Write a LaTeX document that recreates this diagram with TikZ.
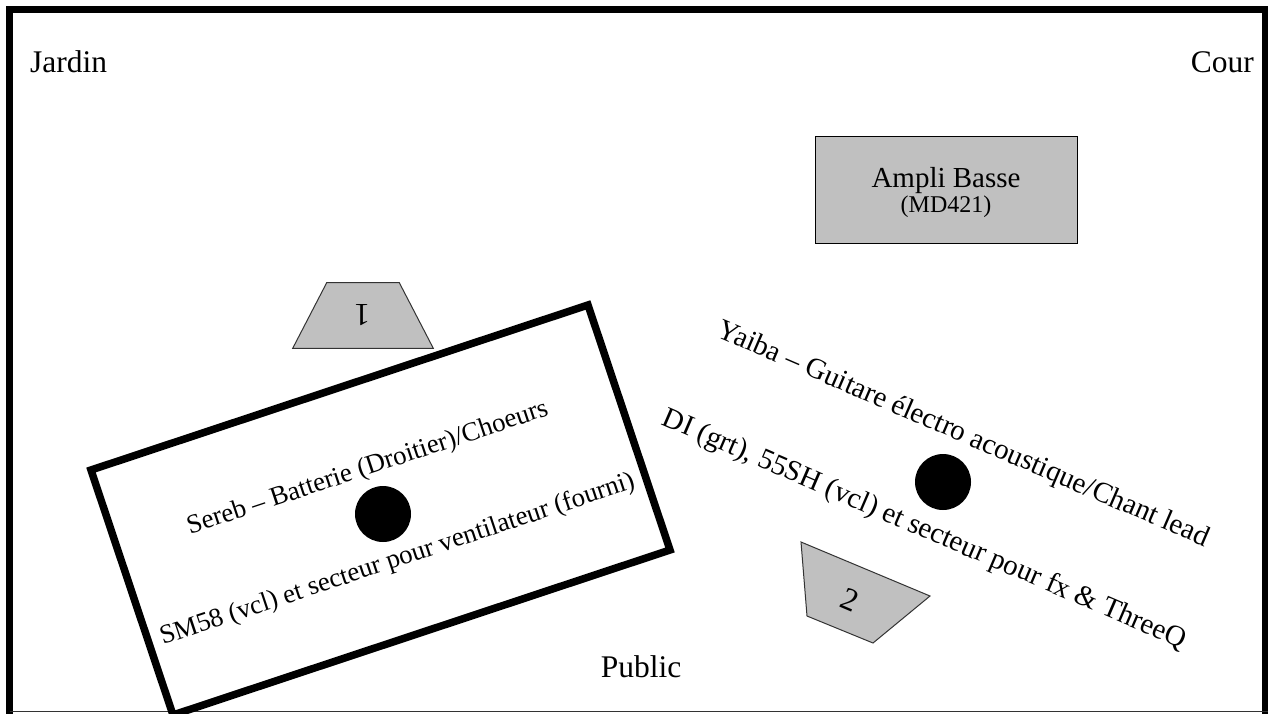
\documentclass[tikz,border=0pt]{standalone}
\usepackage{fontspec}
\setmainfont{Liberation Serif}
\definecolor{wedgegray}{HTML}{C0C0C0}
\definecolor{edgegray}{HTML}{333333}
\begin{document}
\begin{tikzpicture}[x=1pt,y=-1pt,
  lbl/.style={inner sep=0pt,font=\fontsize{29}{34}\selectfont},
  cornerlbl/.style={inner sep=0pt,font=\fontsize{31.5}{36}\selectfont},
  smalllbl/.style={inner sep=0pt,font=\fontsize{24}{28}\selectfont},
  wedgelbl/.style={inner sep=0pt,font=\fontsize{32}{36}\selectfont},
  drumtxt/.style={inner sep=0pt,font=\fontsize{26.8}{31}\selectfont,rotate=18.4},
  gtrtxt/.style={inner sep=0pt,font=\fontsize{29}{34}\selectfont,rotate=-23.3},
  wedge/.style={fill=wedgegray,draw=edgegray,line width=1pt,line join=miter},
  frame/.style={line width=7pt,line join=miter},
  riser/.style={line width=7.5pt,line join=miter},
  spot/.style={fill=black}]
\useasboundingbox (0,0) rectangle (1268,713);
\clip (0,0) rectangle (1268,713);
\fill[white] (0,0) rectangle (1268,713);
% stage frame
\draw[frame] (9.5,720) -- (9.5,9.5) -- (1265,9.5) -- (1265,720);
\draw[line width=1.5pt,color=edgegray] (9.5,711.5) -- (1268,711.5);
% corner labels
\node[cornerlbl,anchor=base west] (jardin) at (30,72.5) {Jardin};
\node[cornerlbl,anchor=base east] (cour) at (1254,72.5) {Cour};
\node[cornerlbl,anchor=base] (public) at (641,677) {Public};
% bass amp
\node[fill=wedgegray,draw=black,line width=0.8pt,minimum width=262pt,minimum height=107pt,inner sep=0pt] (ampli) at (946,189.5) {};
\node[lbl,anchor=base] (amplitxt) at (946,187) {Ampli Basse};
\node[smalllbl,anchor=base] (md421) at (946,212) {(MD421)};
% wedge 1
\draw[wedge] (326.7,282.7) -- (399.3,282.7) -- (433.3,348.3) -- (292.7,348.3) -- cycle;
\node[wedgelbl,rotate=180] (w1) at (362,315) {1};
% drum riser
\draw[riser] (91,470) -- (588,305) -- (670,550) -- (173,715) -- cycle;
\fill[spot] (383,514) circle[radius=28pt];
\node[drumtxt] (sereb) at (367.8,468.5) {Sereb – Batterie (Droitier)/Choeurs};
\node[drumtxt] (sm58) at (397.5,560) {SM58 (vcl) et secteur pour ventilateur (fourni)};
% guitar
\fill[spot] (943,482) circle[radius=28pt];
\node[gtrtxt] (yaiba) at (963,435) {Yaiba – Guitare électro acoustique/Chant lead};
\node[gtrtxt] (di) at (924,530) {DI (grt), 55SH (vcl) et secteur pour fx \& ThreeQ};
% wedge 2
\draw[wedge] (801,542) -- (930,596) -- (873,643) -- (807,616) -- cycle;
\node[wedgelbl,rotate=-23] (w2) at (850,600) {2};
\end{tikzpicture}
\end{document}
